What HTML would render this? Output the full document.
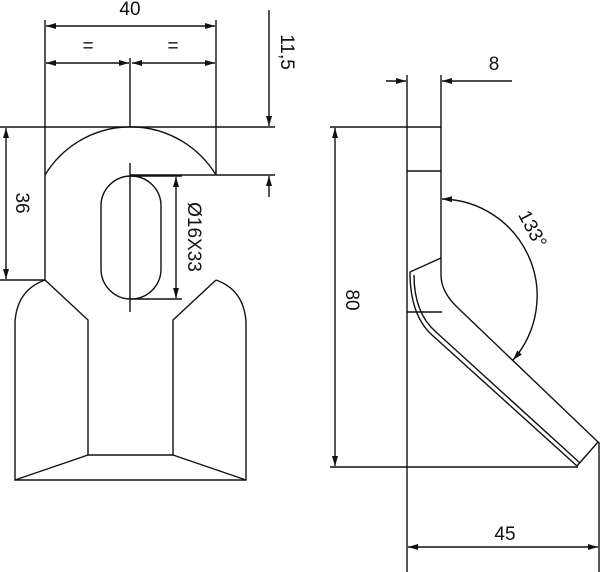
<!DOCTYPE html>
<html><head><style>html,body{margin:0;padding:0;background:#fff}svg{display:block}</style></head><body>
<svg width="600" height="572" viewBox="0 0 600 572" xmlns="http://www.w3.org/2000/svg">
<defs>
<marker id="a" viewBox="0 0 10 6" refX="10" refY="3" markerWidth="10" markerHeight="6" orient="auto-start-reverse" markerUnits="userSpaceOnUse"><path d="M0,0 L10,3 L0,6 Z" fill="#111"/></marker>
</defs>
<g stroke="#111" fill="none" stroke-width="1.4">
<line x1="45" y1="20" x2="45" y2="280"/>
<line x1="216" y1="20" x2="216" y2="175"/>
<line x1="46" y1="26" x2="215" y2="26" marker-start="url(#a)" marker-end="url(#a)"/>
<line x1="46" y1="63" x2="129" y2="63" marker-start="url(#a)" marker-end="url(#a)"/>
<line x1="132" y1="63" x2="215" y2="63" marker-start="url(#a)" marker-end="url(#a)"/>
<line x1="130" y1="58" x2="130" y2="127"/>
<line x1="130" y1="163" x2="130" y2="312"/>
<line x1="0" y1="127" x2="275" y2="127"/>
<line x1="269" y1="10" x2="269" y2="126" marker-end="url(#a)"/>
<line x1="130" y1="175" x2="275" y2="175"/>
<line x1="269" y1="197" x2="269" y2="176" marker-end="url(#a)"/>
<line x1="6" y1="128" x2="6" y2="279" marker-start="url(#a)" marker-end="url(#a)"/>
<line x1="0" y1="280" x2="45" y2="280"/>
<path d="M45,175 A100,100 0 0 1 216,175"/>
<path d="M101,206 A30,30 0 0 1 161,206 L161,269 A30,30 0 0 1 101,269 Z"/>
<line x1="130" y1="176" x2="182" y2="176"/>
<line x1="130" y1="299" x2="182" y2="299"/>
<line x1="176" y1="177" x2="176" y2="298" marker-start="url(#a)" marker-end="url(#a)"/>
<path d="M45,280 Q17,290 15,322 L15,480 L246,480 L246,322 Q244,290 216,280"/>
<path d="M45,280 L88,320 L88,455 L173,455 L173,320 L216,280"/>
<line x1="15" y1="480" x2="88" y2="455"/>
<line x1="246" y1="480" x2="173" y2="455"/>
<line x1="407" y1="75" x2="407" y2="572"/>
<line x1="441" y1="75" x2="441" y2="127"/>
<line x1="386" y1="81" x2="406" y2="81" marker-end="url(#a)"/>
<line x1="512" y1="81" x2="442" y2="81" marker-end="url(#a)"/>
<line x1="330" y1="127" x2="441" y2="127"/>
<line x1="407" y1="171" x2="441" y2="171"/>
<line x1="335" y1="128" x2="335" y2="466" marker-start="url(#a)" marker-end="url(#a)"/>
<line x1="330" y1="467" x2="578" y2="467"/>
<path d="M441,127 L441,275 Q441,292 458,308 L598,442 L577,466"/>
<line x1="410" y1="272" x2="441" y2="258"/>
<line x1="407" y1="312" x2="442" y2="312"/>
<path d="M410,272 Q410,315 432,335 L577,466"/>
<path d="M414,275 Q414,313 436,332 L580,463"/>
<path d="M442,199 A97,97 0 0 1 513,360" marker-start="url(#a)" marker-end="url(#a)"/>
<line x1="599" y1="442" x2="599" y2="572"/>
<line x1="408" y1="547" x2="598" y2="547" marker-start="url(#a)" marker-end="url(#a)"/>
</g>
<g font-family="Liberation Sans, sans-serif" font-size="19" fill="#111" text-anchor="middle">
<text x="130" y="15">40</text>
<text x="88" y="52">=</text>
<text x="173" y="52">=</text>
<text transform="translate(281,52) rotate(90)">11,5</text>
<text transform="translate(16,203) rotate(90)">36</text>
<text transform="translate(188,237) rotate(90)">Ø16X33</text>
<text x="494" y="70">8</text>
<text transform="translate(346,300) rotate(90)">80</text>
<text transform="translate(527,232) rotate(62)">133°</text>
<text x="505" y="540">45</text>
</g>
</svg>
</body></html>
